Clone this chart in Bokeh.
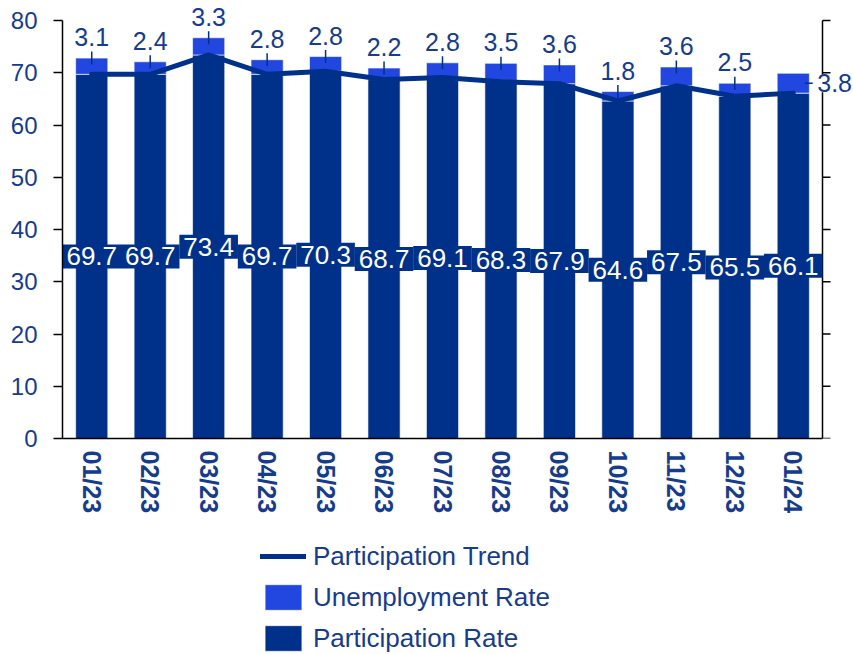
import math
from bokeh.plotting import figure
from bokeh.layouts import column
from bokeh.models import (ColumnDataSource, Range1d, Legend, LegendItem, LabelSet, FixedTicker)
from bokeh.core.properties import value
from bokeh.embed import file_html
from bokeh.resources import INLINE

# ---------------- data ----------------
months = ["01/23", "02/23", "03/23", "04/23", "05/23", "06/23", "07/23",
          "08/23", "09/23", "10/23", "11/23", "12/23", "01/24"]
participation = [69.7, 69.7, 73.4, 69.7, 70.3, 68.7, 69.1, 68.3, 67.9, 64.6, 67.5, 65.5, 66.1]
unemployment = [3.1, 2.4, 3.3, 2.8, 2.8, 2.2, 2.8, 3.5, 3.6, 1.8, 3.6, 2.5, 3.8]
trend = [69.7, 69.7, 73.4, 69.7, 70.3, 68.7, 69.1, 68.3, 67.9, 64.6, 67.5, 65.5, 66.1]
y_ticks = [0, 10, 20, 30, 40, 50, 60, 70, 80]
series_names = ["Participation Trend", "Unemployment Rate", "Participation Rate"]

# ---------------- style ----------------
NAVY = "#00318a"
BLUE = "#2247e0"
TXT = "#163c8e"
FONT = "Liberation Sans"

n = len(months)
idx = list(range(n))
x_lo, x_hi = -0.5, n - 0.5          # category band edges
total = [p + u for p, u in zip(participation, unemployment)]

src = ColumnDataSource(dict(
    x=idx, part=participation, unemp=unemployment, trend=trend,
    part_mid=[p / 2 for p in participation],
    part_lbl=[f"{p:.1f}" for p in participation],
))
src_top = ColumnDataSource(dict(
    x=idx[:-1], total=total[:-1],
    lbl=[f"{u:.1f}" for u in unemployment[:-1]],
))
src_last = ColumnDataSource(dict(
    x=idx[-1:], x_lead=[idx[-1] + 0.265],
    mid=[participation[-1] + unemployment[-1] / 2],
    lbl=[f"{unemployment[-1]:.1f}"],
))

W = 853
FW, FH = 791, 438
p = figure(x_range=Range1d(x_lo, x_lo + FW / (760 / n)),
           y_range=Range1d(0, FH / (418 / 80)),
           frame_width=FW, frame_height=FH,
           min_border_left=62, min_border_right=0, min_border_top=0, min_border_bottom=98,
           output_backend="svg", toolbar_location=None)
p.outline_line_color = None
p.grid.visible = False
p.background_fill_color = "white"
p.border_fill_color = "white"

bar_style = dict(line_color="white", line_alpha=0.6, line_width=1)
bars = p.vbar_stack(["part", "unemp"], x="x", width=0.55, color=[NAVY, BLUE],
                    source=src, **bar_style)

line_style = dict(line_width=5, line_color=NAVY, line_cap="round", line_join="round")
trend_r = p.line(x="x", y="trend", source=src, **line_style)

# right-hand value axis (line + outward ticks, no labels)
p.segment(x0=[x_hi], y0=[y_ticks[0]], x1=[x_hi], y1=[y_ticks[-1]],
          line_color="black", line_width=1.5)
p.ray(x=[x_hi] * len(y_ticks), y=y_ticks, length=8, length_units="screen", angle=0,
      line_color="black", line_width=1.5)

# participation labels (white on navy boxes)
p.text(x="x", y="part_mid", text="part_lbl", source=src,
       text_font=value(FONT), text_font_size="26px", text_color="white",
       text_align="center", text_baseline="middle",
       background_fill_color=NAVY,
       padding=dict(left=4, right=4, top=3, bottom=3))

# unemployment labels above bars with leader ticks
p.scatter(x="x", y="total", marker="dash", angle=math.pi / 2, size=13,
          line_color=NAVY, line_width=1.5, source=src_top)
p.add_layout(LabelSet(x="x", y="total", text="lbl", source=src_top, y_offset=21,
                      text_align="center", text_baseline="middle",
                      text_font=value(FONT), text_font_size="25px", text_color=TXT))

# last unemployment label placed to the right of its bar
p.scatter(x="x_lead", y="mid", marker="dash", size=8,
          line_color=NAVY, line_width=1.5, source=src_last)
p.add_layout(LabelSet(x="x", y="mid", text="lbl", source=src_last, x_offset=24,
                      text_align="left", text_baseline="middle",
                      background_fill_color="white",
                      text_font=value(FONT), text_font_size="25px", text_color=TXT))

# bottom category axis
xa = p.xaxis[0]
xa.ticker = FixedTicker(ticks=idx)
xa.major_label_overrides = {i: m for i, m in zip(idx, months)}
xa.bounds = (x_lo, x_hi)
xa.axis_line_color = "black"
xa.axis_line_width = 1.5
xa.major_tick_out = 0
xa.major_tick_in = 0
xa.minor_tick_out = 0
xa.minor_tick_in = 0
xa.major_label_orientation = -math.pi / 2
xa.major_label_standoff = 12
xa.major_label_text_font = FONT
xa.major_label_text_font_size = "25px"
xa.major_label_text_font_style = "bold"
xa.major_label_text_color = TXT

ya = p.yaxis[0]
ya.ticker = FixedTicker(ticks=y_ticks)
ya.bounds = (y_ticks[0], y_ticks[-1])
ya.axis_line_color = "black"
ya.axis_line_width = 1.5
ya.major_tick_out = 9
ya.major_tick_in = 0
ya.major_tick_line_width = 1.5
ya.minor_tick_out = 0
ya.minor_tick_in = 0
ya.major_label_standoff = 16
ya.major_label_text_font = FONT
ya.major_label_text_font_size = "24px"
ya.major_label_text_color = TXT

# ---------------- legend strip below the chart ----------------
# proxies share the chart's data but the strip's ranges lie far away from it,
# so only their legend swatches are seen
LH = 654 - (FH + 98)
lg = figure(x_range=Range1d(-1000, -999), y_range=Range1d(-1000, -999),
            frame_width=W, frame_height=LH, min_border=0,
            x_axis_type=None, y_axis_type=None,
            output_backend="svg", toolbar_location=None)
lg.outline_line_color = None
lg.grid.visible = False
lg_line = lg.line(x="x", y="trend", source=src, **line_style)
lg_unemp = lg.vbar(x="x", top="unemp", width=0.55, fill_color=BLUE, source=src, **bar_style)
lg_part = lg.vbar(x="x", top="part", width=0.55, fill_color=NAVY, source=src, **bar_style)

legend = Legend(items=[
    LegendItem(label=series_names[0], renderers=[lg_line]),
    LegendItem(label=series_names[1], renderers=[lg_unemp]),
    LegendItem(label=series_names[2], renderers=[lg_part]),
], location=(260, 0), orientation="vertical",
    glyph_width=46, glyph_height=32, label_standoff=7, spacing=9,
    padding=0, margin=0, border_line_color=None, background_fill_alpha=0,
    label_text_font=FONT, label_text_font_size="26px", label_text_color=TXT,
    label_text_baseline="middle")
lg.add_layout(legend)

layout = column(p, lg, spacing=0)
open("out.html", "w").write(file_html(layout, INLINE))
